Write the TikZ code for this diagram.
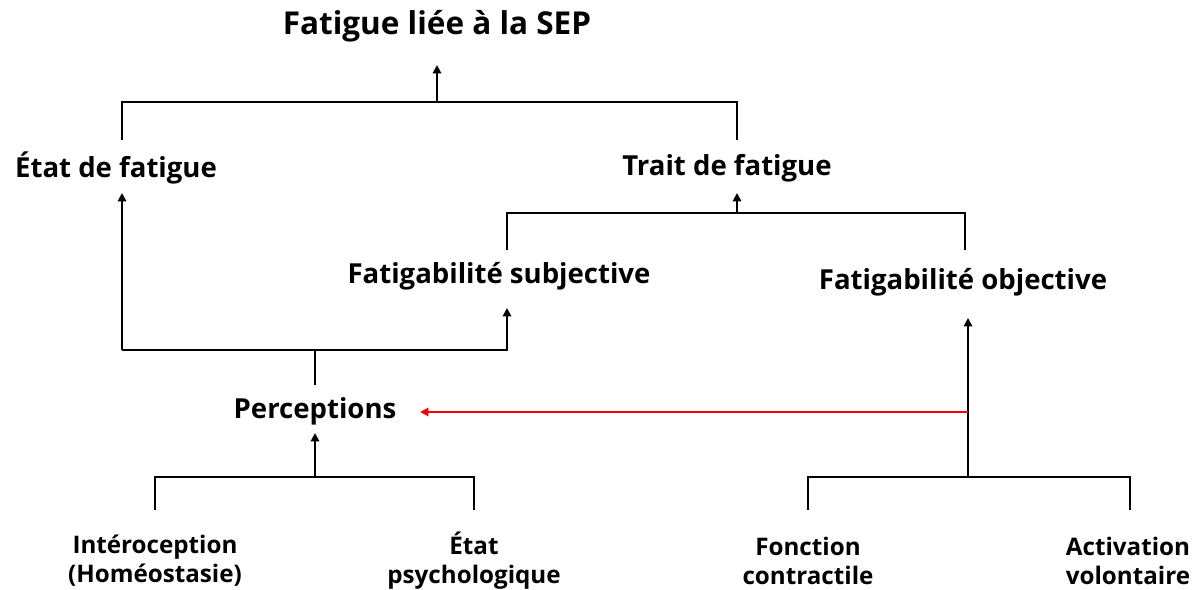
\documentclass[tikz,border=0pt]{standalone}
\usepackage{fontspec}
\setmainfont{Open Sans}
\usetikzlibrary{arrows.meta, positioning, calc}
\tikzset{
  toplbl/.style={font=\bfseries\fontsize{22.4}{26}\selectfont, inner sep=0pt},
  lbl/.style={font=\bfseries\fontsize{19.6}{23}\selectfont, align=center, inner sep=0pt},
  sublbl/.style={font=\bfseries\fontsize{17.2}{20.5}\selectfont, align=center, inner sep=0pt},
  link/.style={line width=1.4pt},
  uparrow/.style={link, -{Triangle[width=6pt,length=6pt]}},
  redarrow/.style={line width=1.4pt, red, -{Triangle[width=6pt,length=6pt]}},
}
\begin{document}
\begin{tikzpicture}[x=0.025cm, y=-0.025cm]
\useasboundingbox (0,0) rectangle (1200,590);

% Labels
\node[toplbl] (sep) at (437,26) {Fatigue liée à la SEP};
\node[lbl] (etat) at (116,168) {État de fatigue};
\node[lbl] (trait) at (727,168) {Trait de fatigue};
\node[lbl] (subj) at (499,276) {Fatigabilité subjective};
\node[lbl] (obj) at (963,282) {Fatigabilité objective};
\node[lbl] (perc) at (315,411) {Perceptions};
\node[sublbl] (intero) at (155,561) {Intéroception\\(Homéostasie)};
\node[sublbl] (psy) at (474,561) {État\\psychologique};
\node[sublbl] (fonc) at (808,561) {Fonction\\contractile};
\node[sublbl] (activ) at (1128,561) {Activation\\volontaire};

% Junction points
\coordinate (sepTip) at (437,65);
\coordinate (etatUp) at (122,140);
\coordinate (traitUp) at (737,140);
\coordinate (etatTip) at (122,193);
\coordinate (traitTip) at (737,193);
\coordinate (subjUp) at (507,250);
\coordinate (objUp) at (965,250);
\coordinate (subjTip) at (507,308);
\coordinate (objTip) at (968,318);
\coordinate (percUp) at (315,385);
\coordinate (percTip) at (315,433);
\coordinate (percLeft) at (420,412);
\coordinate (interoUp) at (155,510);
\coordinate (psyUp) at (474,510);
\coordinate (foncUp) at (808,510);
\coordinate (activUp) at (1130,510);

% Fatigue liée à la SEP
\draw[link] (etatUp) |- (traitUp |- 0,102) -- (traitUp);
\draw[uparrow] (sepTip |- 0,102) -- (sepTip);

% Trait de fatigue
\draw[link] (subjUp) |- (objUp |- 0,213) -- (objUp);
\draw[uparrow] (traitTip |- 0,213) -- (traitTip);

% Etat de fatigue et fatigabilite subjective
\draw[uparrow] (etatTip |- 0,350) -- (etatTip);
\draw[link] (etatTip |- 0,350) -| (subjTip |- 0,335);
\draw[uparrow] (subjTip |- 0,350) -- (subjTip);
\draw[link] (percUp) -- (percUp |- 0,350);

% Perceptions
\draw[link] (interoUp) |- (psyUp |- 0,477) -- (psyUp);
\draw[uparrow] (percTip |- 0,477) -- (percTip);

% Fatigabilite objective
\draw[link] (foncUp) |- (activUp |- 0,477) -- (activUp);
\draw[uparrow] (objTip |- 0,477) -- (objTip);

% Lien rouge
\draw[redarrow] (objTip |- percLeft) -- (percLeft);
\end{tikzpicture}
\end{document}
